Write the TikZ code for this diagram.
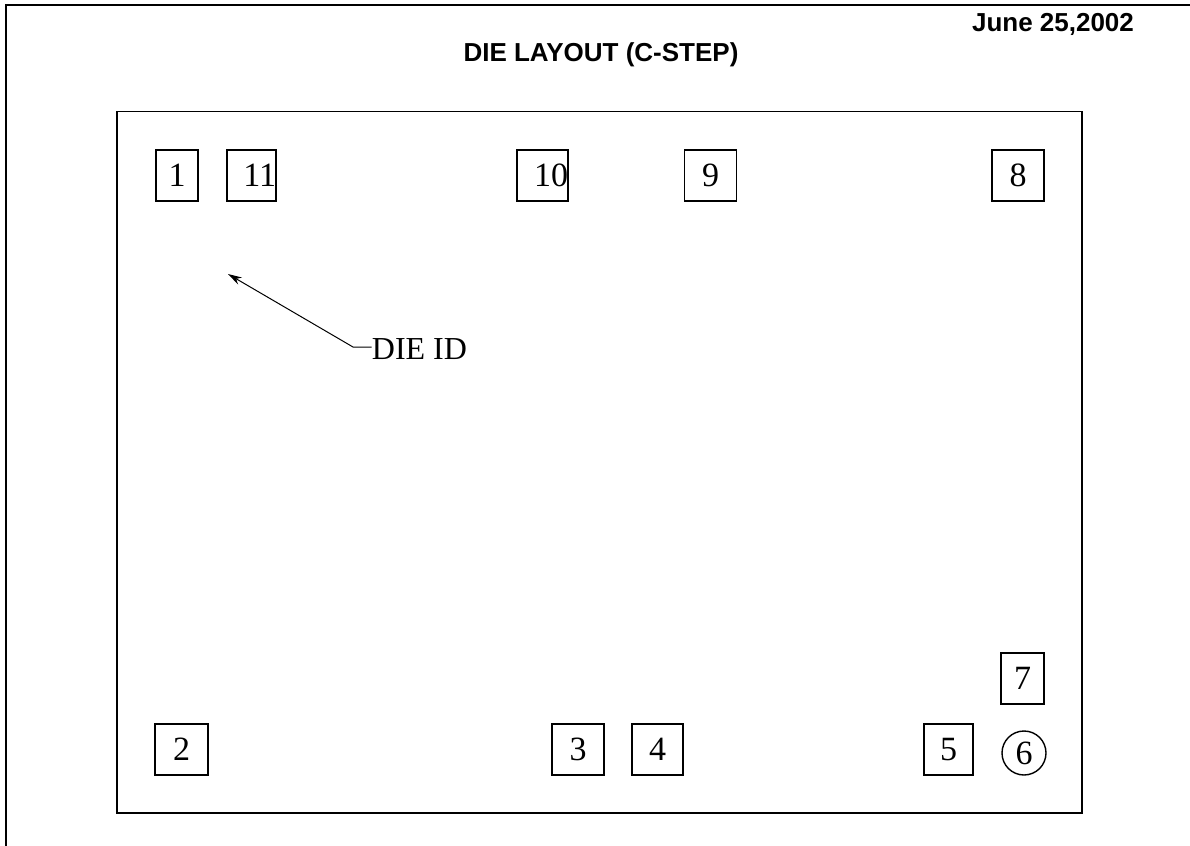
\documentclass[tikz,border=0pt]{standalone}
\usepackage{fontspec}
\setmainfont{Liberation Serif}
\newfontfamily\arialfont{Liberation Sans}
\usetikzlibrary{arrows.meta, positioning}

\begin{document}
\begin{tikzpicture}[
    x=0.5pt, y=-0.5pt,
    pad/.style={draw, line width=0.7pt, inner sep=0pt, minimum height=25.5pt, font=\fontsize{17}{20}\selectfont},
    padr/.style={pad, align=right, text width=#1},
    title/.style={font=\arialfont\bfseries\fontsize{13}{15}\selectfont, inner sep=0pt, anchor=base},
    arrow/.style={-{Stealth[length=7pt, width=4pt]}, line width=0.5pt}
]
    \useasboundingbox (0,0) rectangle (1190,846);

    % Frame and die outline
    \draw[line width=1pt] (6,846) -- (6,5) -- (1190,5);
    \draw[line width=0.65pt] (117,111.5) rectangle (1082,813);

    % Titles
    \node[title] (date) at (1053,32) {June 25,2002};
    \node[title] (heading) at (601,61.5) {DIE LAYOUT (C-STEP)};

    % Top row of pads
    \node[pad, minimum width=21pt] (p1) at (177,175.5) {1};
    \node[padr=24.5pt] (p11) at (251.5,175.5) {11};
    \node[padr=25.5pt] (p10) at (542.5,175.5) {10};
    \node[pad, minimum width=26pt] (p9) at (710.5,175.5) {9};
    \node[pad, minimum width=26pt] (p8) at (1018,175.5) {8};

    % Bottom row of pads
    \node[pad, minimum width=26.5pt] (p2) at (181.5,749.5) {2};
    \node[pad, minimum width=26pt] (p3) at (578,749.5) {3};
    \node[pad, minimum width=25.5pt] (p4) at (657.5,749.5) {4};
    \node[pad, minimum width=24.5pt] (p5) at (948.5,749.5) {5};
    \node[pad, circle, minimum size=22pt] (p6) at (1024,753) {6};
    \node[pad, minimum width=21.5pt] (p7) at (1022.5,678.5) {7};

    % Die ID marker
    \node[font=\fontsize{16}{19}\selectfont, inner sep=0pt, anchor=base west] (dieid) at (371.5,359.3) {DIE ID};
    \coordinate (bend) at (353,347);
    \coordinate (idmark) at (228,274);
    \draw[arrow] (dieid.west |- bend) -- (bend) -- (idmark);
\end{tikzpicture}
\end{document}
